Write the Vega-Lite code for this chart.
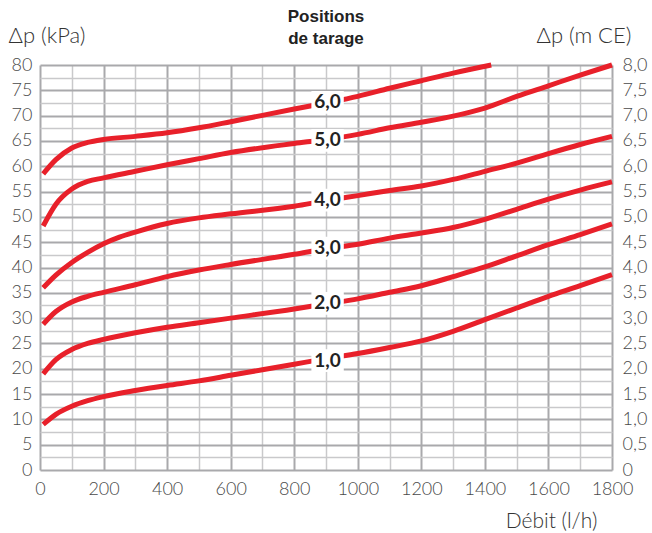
{
  "$schema": "https://vega.github.io/schema/vega-lite/v6.json",
  "width": 572,
  "height": 405,
  "autosize": {"type": "none"},
  "padding": {"left": 40, "top": 65, "right": 40, "bottom": 63},
  "background": "white",
  "config": {
    "view": {"stroke": null},
    "font": "Lato"
  },
  "title": {
    "text": ["Positions", "de tarage"],
    "font": "Liberation Sans",
    "fontWeight": "bold",
    "fontSize": 17,
    "lineHeight": 22,
    "color": "#222222",
    "anchor": "middle",
    "frame": "group",
    "offset": -24
  },
  "datasets": {
    "curves": [
      {"pos": "1,0", "q": 10, "dp": 9.0}, {"pos": "1,0", "q": 50, "dp": 11.0}, {"pos": "1,0", "q": 100, "dp": 12.6}, {"pos": "1,0", "q": 150, "dp": 13.7}, {"pos": "1,0", "q": 200, "dp": 14.5}, {"pos": "1,0", "q": 300, "dp": 15.7}, {"pos": "1,0", "q": 400, "dp": 16.7}, {"pos": "1,0", "q": 500, "dp": 17.6}, {"pos": "1,0", "q": 600, "dp": 18.7}, {"pos": "1,0", "q": 700, "dp": 19.8}, {"pos": "1,0", "q": 800, "dp": 20.9}, {"pos": "1,0", "q": 900, "dp": 22.0}, {"pos": "1,0", "q": 1000, "dp": 23.0}, {"pos": "1,0", "q": 1100, "dp": 24.2}, {"pos": "1,0", "q": 1200, "dp": 25.5}, {"pos": "1,0", "q": 1300, "dp": 27.4}, {"pos": "1,0", "q": 1400, "dp": 29.7}, {"pos": "1,0", "q": 1500, "dp": 32.0}, {"pos": "1,0", "q": 1600, "dp": 34.3}, {"pos": "1,0", "q": 1700, "dp": 36.4}, {"pos": "1,0", "q": 1800, "dp": 38.6},
      {"pos": "2,0", "q": 10, "dp": 19.0}, {"pos": "2,0", "q": 50, "dp": 21.8}, {"pos": "2,0", "q": 100, "dp": 23.8}, {"pos": "2,0", "q": 150, "dp": 25.0}, {"pos": "2,0", "q": 200, "dp": 25.8}, {"pos": "2,0", "q": 300, "dp": 27.1}, {"pos": "2,0", "q": 400, "dp": 28.2}, {"pos": "2,0", "q": 500, "dp": 29.1}, {"pos": "2,0", "q": 600, "dp": 30.0}, {"pos": "2,0", "q": 800, "dp": 31.8}, {"pos": "2,0", "q": 900, "dp": 32.8}, {"pos": "2,0", "q": 1000, "dp": 33.8}, {"pos": "2,0", "q": 1100, "dp": 35.1}, {"pos": "2,0", "q": 1200, "dp": 36.4}, {"pos": "2,0", "q": 1300, "dp": 38.2}, {"pos": "2,0", "q": 1400, "dp": 40.1}, {"pos": "2,0", "q": 1500, "dp": 42.3}, {"pos": "2,0", "q": 1600, "dp": 44.5}, {"pos": "2,0", "q": 1700, "dp": 46.5}, {"pos": "2,0", "q": 1800, "dp": 48.6},
      {"pos": "3,0", "q": 10, "dp": 28.8}, {"pos": "3,0", "q": 50, "dp": 31.3}, {"pos": "3,0", "q": 100, "dp": 33.2}, {"pos": "3,0", "q": 150, "dp": 34.3}, {"pos": "3,0", "q": 200, "dp": 35.1}, {"pos": "3,0", "q": 300, "dp": 36.6}, {"pos": "3,0", "q": 400, "dp": 38.2}, {"pos": "3,0", "q": 500, "dp": 39.5}, {"pos": "3,0", "q": 600, "dp": 40.6}, {"pos": "3,0", "q": 800, "dp": 42.6}, {"pos": "3,0", "q": 900, "dp": 43.7}, {"pos": "3,0", "q": 1000, "dp": 44.6}, {"pos": "3,0", "q": 1100, "dp": 45.8}, {"pos": "3,0", "q": 1200, "dp": 46.8}, {"pos": "3,0", "q": 1300, "dp": 47.9}, {"pos": "3,0", "q": 1400, "dp": 49.5}, {"pos": "3,0", "q": 1500, "dp": 51.5}, {"pos": "3,0", "q": 1600, "dp": 53.5}, {"pos": "3,0", "q": 1700, "dp": 55.3}, {"pos": "3,0", "q": 1800, "dp": 56.9},
      {"pos": "4,0", "q": 10, "dp": 36.0}, {"pos": "4,0", "q": 50, "dp": 38.5}, {"pos": "4,0", "q": 100, "dp": 41.0}, {"pos": "4,0", "q": 150, "dp": 43.0}, {"pos": "4,0", "q": 200, "dp": 44.7}, {"pos": "4,0", "q": 250, "dp": 46.0}, {"pos": "4,0", "q": 300, "dp": 47.0}, {"pos": "4,0", "q": 400, "dp": 48.7}, {"pos": "4,0", "q": 500, "dp": 49.8}, {"pos": "4,0", "q": 600, "dp": 50.6}, {"pos": "4,0", "q": 800, "dp": 52.1}, {"pos": "4,0", "q": 900, "dp": 53.2}, {"pos": "4,0", "q": 1000, "dp": 54.2}, {"pos": "4,0", "q": 1100, "dp": 55.2}, {"pos": "4,0", "q": 1200, "dp": 56.1}, {"pos": "4,0", "q": 1300, "dp": 57.4}, {"pos": "4,0", "q": 1400, "dp": 59.0}, {"pos": "4,0", "q": 1500, "dp": 60.6}, {"pos": "4,0", "q": 1600, "dp": 62.5}, {"pos": "4,0", "q": 1700, "dp": 64.3}, {"pos": "4,0", "q": 1800, "dp": 65.9},
      {"pos": "5,0", "q": 10, "dp": 48.2}, {"pos": "5,0", "q": 50, "dp": 52.5}, {"pos": "5,0", "q": 100, "dp": 55.5}, {"pos": "5,0", "q": 150, "dp": 57.0}, {"pos": "5,0", "q": 200, "dp": 57.7}, {"pos": "5,0", "q": 300, "dp": 59.0}, {"pos": "5,0", "q": 400, "dp": 60.3}, {"pos": "5,0", "q": 500, "dp": 61.5}, {"pos": "5,0", "q": 600, "dp": 62.7}, {"pos": "5,0", "q": 800, "dp": 64.5}, {"pos": "5,0", "q": 900, "dp": 65.3}, {"pos": "5,0", "q": 1000, "dp": 66.3}, {"pos": "5,0", "q": 1100, "dp": 67.6}, {"pos": "5,0", "q": 1200, "dp": 68.7}, {"pos": "5,0", "q": 1300, "dp": 69.9}, {"pos": "5,0", "q": 1400, "dp": 71.5}, {"pos": "5,0", "q": 1500, "dp": 73.8}, {"pos": "5,0", "q": 1600, "dp": 75.9}, {"pos": "5,0", "q": 1700, "dp": 78.0}, {"pos": "5,0", "q": 1800, "dp": 80.0},
      {"pos": "6,0", "q": 10, "dp": 58.5}, {"pos": "6,0", "q": 50, "dp": 61.3}, {"pos": "6,0", "q": 100, "dp": 63.6}, {"pos": "6,0", "q": 150, "dp": 64.7}, {"pos": "6,0", "q": 200, "dp": 65.3}, {"pos": "6,0", "q": 300, "dp": 65.9}, {"pos": "6,0", "q": 400, "dp": 66.6}, {"pos": "6,0", "q": 500, "dp": 67.6}, {"pos": "6,0", "q": 600, "dp": 68.8}, {"pos": "6,0", "q": 800, "dp": 71.3}, {"pos": "6,0", "q": 900, "dp": 72.5}, {"pos": "6,0", "q": 1000, "dp": 73.8}, {"pos": "6,0", "q": 1100, "dp": 75.4}, {"pos": "6,0", "q": 1200, "dp": 76.9}, {"pos": "6,0", "q": 1300, "dp": 78.4}, {"pos": "6,0", "q": 1420, "dp": 80.0}
    ],
    "labels": [
      {"pos": "1,0", "q": 905, "dp": 21.6},
      {"pos": "2,0", "q": 905, "dp": 32.9},
      {"pos": "3,0", "q": 905, "dp": 43.8},
      {"pos": "4,0", "q": 905, "dp": 53.3},
      {"pos": "5,0", "q": 905, "dp": 65.1},
      {"pos": "6,0", "q": 905, "dp": 72.6}
    ]
  },
  "resolve": {"axis": {"y": "independent"}},
  "encoding": {
    "x": {
      "field": "q", "type": "quantitative",
      "scale": {"domain": [0, 1800], "nice": false},
      "axis": {
        "values": [0, 100, 200, 300, 400, 500, 600, 700, 800, 900, 1000, 1100, 1200, 1300, 1400, 1500, 1600, 1700, 1800],
        "labelExpr": "datum.value % 200 === 0 ? datum.value : ''",
        "domain": false, "ticks": false,
        "grid": true,
        "gridColor": {"condition": {"test": "datum.value % 200 === 0", "value": "#a9a9ac"}, "value": "#c9c9cb"},
        "gridWidth": {"condition": {"test": "datum.value % 200 === 0", "value": 2}, "value": 1.5},
        "gridOpacity": 1,
        "labelFont": "Lato", "labelFontSize": 18, "labelFontWeight": 300, "labelColor": "#4a4a4a", "labelPadding": 10,
        "labelFlush": false, "labelOverlap": false,
        "title": "Débit (l/h)",
        "titleFont": "Lato", "titleFontSize": 21, "titleFontWeight": 300, "titleColor": "#333333",
        "titleAlign": "center", "titleBaseline": "middle",
        "titleX": 511, "titleY": 51
      }
    }
  },
  "layer": [
    {
      "data": {"name": "curves"},
      "mark": {"type": "line", "interpolate": "monotone", "color": "#e8202a", "strokeWidth": 5, "strokeCap": "butt"},
      "encoding": {
        "y": {
          "field": "dp", "type": "quantitative",
          "scale": {"domain": [0, 80], "nice": false},
          "axis": {
            "values": [0, 2.5, 5, 7.5, 10, 12.5, 15, 17.5, 20, 22.5, 25, 27.5, 30, 32.5, 35, 37.5, 40, 42.5, 45, 47.5, 50, 52.5, 55, 57.5, 60, 62.5, 65, 67.5, 70, 72.5, 75, 77.5, 80],
            "labelExpr": "datum.value % 5 === 0 ? datum.value : ''",
            "domain": false, "ticks": false,
            "grid": true,
            "gridColor": {"condition": {"test": "datum.value % 5 === 0", "value": "#a9a9ac"}, "value": "#c9c9cb"},
            "gridWidth": {"condition": {"test": "datum.value % 5 === 0", "value": 2}, "value": 1.5},
            "gridOpacity": 1,
            "labelFont": "Lato", "labelFontSize": 18, "labelFontWeight": 300, "labelColor": "#4a4a4a", "labelPadding": 8,
            "labelFlush": false, "labelOverlap": false,
            "title": "Δp (kPa)",
            "titleFont": "Lato", "titleFontSize": 22, "titleFontWeight": 300, "titleColor": "#333333",
            "titleAngle": 0, "titleAlign": "left", "titleBaseline": "middle",
            "titleX": -32, "titleY": -30
          }
        },
        "detail": {"field": "pos"}
      }
    },
    {
      "data": {"name": "labels"},
      "mark": {"type": "point", "shape": "M-1.35,-0.95L1.35,-0.95L1.35,0.95L-1.35,0.95Z", "filled": true, "color": "white", "opacity": 1, "size": 576},
      "encoding": {
        "y": {
          "field": "dp", "type": "quantitative",
          "axis": {
            "orient": "right",
            "values": [0, 5, 10, 15, 20, 25, 30, 35, 40, 45, 50, 55, 60, 65, 70, 75, 80],
            "labelExpr": "datum.value === 0 ? '0' : replace(format(datum.value / 10, '.1f'), '.', ',')",
            "domain": false, "ticks": false, "grid": false,
            "labelFont": "Lato", "labelFontSize": 18, "labelFontWeight": 300, "labelColor": "#4a4a4a", "labelPadding": 10,
            "labelFlush": false, "labelOverlap": false,
            "title": "Δp (m CE)",
            "titleFont": "Lato", "titleFontSize": 22, "titleFontWeight": 300, "titleColor": "#333333",
            "titleAngle": 0, "titleAlign": "left", "titleBaseline": "middle",
            "titleX": -76, "titleY": -30
          }
        }
      }
    },
    {
      "data": {"name": "labels"},
      "mark": {"type": "text", "font": "Lato", "fontWeight": "bold", "fontSize": 19, "color": "#222222", "baseline": "middle", "align": "center"},
      "encoding": {
        "y": {"field": "dp", "type": "quantitative", "axis": null},
        "text": {"field": "pos"}
      }
    }
  ]
}
